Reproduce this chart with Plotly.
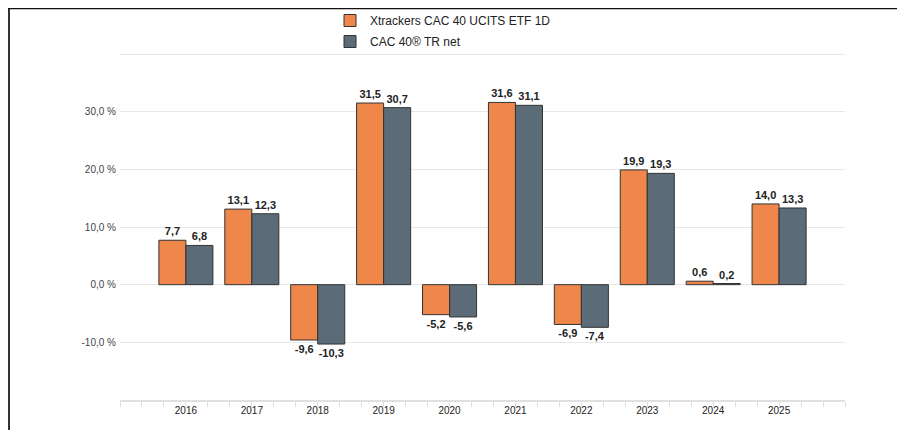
import plotly.graph_objects as go

years = ["2016", "2017", "2018", "2019", "2020", "2021", "2022", "2023", "2024", "2025"]
etf_name = "Xtrackers CAC 40 UCITS ETF 1D"
idx_name = "CAC 40® TR net"
etf_values = [7.7, 13.1, -9.6, 31.5, -5.2, 31.6, -6.9, 19.9, 0.6, 14.0]
idx_values = [6.8, 12.3, -10.3, 30.7, -5.6, 31.1, -7.4, 19.3, 0.2, 13.3]
y_ticks = [-10, 0, 10, 20, 30]
y_labels = ["-10,0 %", "0,0 %", "10,0 %", "20,0 %", "30,0 %"]

W, H = 905, 430
OFF = 8  # page offset of the figure inside the browser window
L, R, T, B = 120 - OFF, 60 + OFF, 54 - OFF, 30 + OFF
pw, ph = W - L - R, H - T - B

def px_x(x):
    return (x - OFF - L) / pw

def px_y(y):
    return (H - B - (y - OFF)) / ph

xpos = list(range(len(years)))
font = "Liberation Sans, Arial, Helvetica, sans-serif"

fig = go.Figure()
fig.add_bar(x=xpos, y=etf_values, name=etf_name, legendgroup="a",
            marker=dict(color="#EF874B", line=dict(color="#333333", width=1)),
            texttemplate="%{y:.1f}", textposition="outside", cliponaxis=False,
            textfont=dict(size=11, color="#222222", family=font, weight="bold"))
fig.add_bar(x=xpos, y=idx_values, name=idx_name, legendgroup="b",
            marker=dict(color="#5B6B77", line=dict(color="#333333", width=1)),
            texttemplate="%{y:.1f}", textposition="outside", cliponaxis=False,
            textfont=dict(size=11, color="#222222", family=font, weight="bold"))

fig.update_layout(
    width=W, height=H,
    margin=dict(l=L, r=R, t=T, b=B, pad=0, autoexpand=False),
    paper_bgcolor="white", plot_bgcolor="white",
    barmode="group", bargap=0.18, bargroupgap=0,
    separators=", ",
    font=dict(family=font, size=10, color="#333333"),
    showlegend=True,
    legend=dict(x=px_x(330), y=px_y(6), xanchor="left", yanchor="top",
                orientation="v", font=dict(size=12, color="#222222"),
                bgcolor="rgba(0,0,0,0)", tracegroupgap=2, itemwidth=30),
    xaxis=dict(range=[-1, 10], tickvals=xpos, ticktext=years, showgrid=False,
               zeroline=False, showline=True, linecolor="#e0e0e0", linewidth=2,
               ticks="", tickfont=dict(size=10, color="#222222"),
               minor=dict(tickmode="linear", tick0=-1, dtick=1/3, ticks="outside",
                          ticklen=5, tickcolor="#dddddd", tickwidth=1, showgrid=False)),
    yaxis=dict(range=[-20, 40], tickvals=y_ticks, ticktext=y_labels,
               showgrid=True, gridcolor="#e8e8e8", gridwidth=1, zeroline=False,
               showline=False, ticks="", ticklabelstandoff=3,
               tickfont=dict(size=10, color="#444444")),
    shapes=[
        dict(type="line", xref="paper", yref="y", x0=0, x1=1, y0=40, y1=40,
             line=dict(color="#e8e8e8", width=2)),
        dict(type="line", xref="paper", yref="paper", x0=px_x(9), x1=px_x(9),
             y0=px_y(8), y1=px_y(H + 10), line=dict(color="#333333", width=2)),
        dict(type="line", xref="paper", yref="paper", x0=px_x(8), x1=px_x(W + 10),
             y0=px_y(8.5), y1=px_y(8.5), line=dict(color="#111111", width=1.5)),
    ],
)

fig.write_html("out.html")
